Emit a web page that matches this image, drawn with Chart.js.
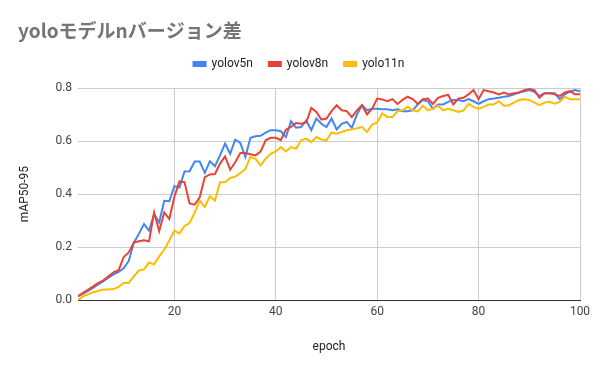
<!DOCTYPE html>
<html lang="ja">
<head>
<meta charset="utf-8">
<title>yoloモデルnバージョン差</title>
<script src="https://cdn.jsdelivr.net/npm/chart.js@4"></script>
<style>
  html, body { margin: 0; padding: 0; background: #fff; }
</style>
</head>
<body>
<canvas id="mapChart" width="600" height="371"></canvas>
<script>
// x categories: training epochs 1..100
const epochs = Array.from({ length: 100 }, (_, i) => i + 1);
const yTicks = [0, 0.2, 0.4, 0.6, 0.8];
const xTicks = [20, 40, 60, 80, 100];

const seriesNames = ['yolov5n', 'yolov8n', 'yolo11n'];

const yolov5n = [
    0.015, 0.025, 0.035, 0.047, 0.060, 0.072, 0.085, 0.097, 0.107, 0.120,
    0.148, 0.217, 0.250, 0.287, 0.262, 0.325, 0.293, 0.375, 0.373, 0.430,
    0.425, 0.485, 0.486, 0.523, 0.523, 0.480, 0.524, 0.505, 0.546, 0.590,
    0.552, 0.605, 0.593, 0.540, 0.612, 0.618, 0.620, 0.632, 0.641, 0.641,
    0.637, 0.615, 0.675, 0.650, 0.653, 0.678, 0.641, 0.685, 0.665, 0.653,
    0.685, 0.644, 0.665, 0.672, 0.650, 0.700, 0.735, 0.716, 0.722, 0.722,
    0.720, 0.720, 0.716, 0.720, 0.712, 0.712, 0.716, 0.738, 0.755, 0.750,
    0.722, 0.738, 0.738, 0.748, 0.755, 0.755, 0.750, 0.758, 0.750, 0.740,
    0.750, 0.758, 0.760, 0.763, 0.767, 0.770, 0.776, 0.783, 0.788, 0.792,
    0.786, 0.770, 0.780, 0.780, 0.780, 0.758, 0.776, 0.786, 0.792, 0.788
];

const yolov8n = [
    0.015, 0.028, 0.040, 0.052, 0.065, 0.075, 0.090, 0.105, 0.113, 0.163,
    0.180, 0.217, 0.222, 0.226, 0.222, 0.331, 0.260, 0.331, 0.306, 0.390,
    0.448, 0.445, 0.365, 0.360, 0.388, 0.464, 0.474, 0.476, 0.515, 0.542,
    0.492, 0.520, 0.555, 0.555, 0.550, 0.546, 0.560, 0.603, 0.612, 0.612,
    0.603, 0.643, 0.653, 0.668, 0.665, 0.670, 0.725, 0.710, 0.681, 0.685,
    0.713, 0.735, 0.716, 0.713, 0.690, 0.716, 0.735, 0.700, 0.722, 0.760,
    0.757, 0.750, 0.758, 0.740, 0.755, 0.767, 0.758, 0.740, 0.758, 0.760,
    0.740, 0.763, 0.770, 0.774, 0.738, 0.760, 0.763, 0.776, 0.792, 0.758,
    0.792, 0.788, 0.783, 0.776, 0.783, 0.776, 0.780, 0.783, 0.792, 0.796,
    0.792, 0.763, 0.780, 0.780, 0.776, 0.770, 0.783, 0.788, 0.776, 0.776
];

const yolo11n = [
    0.000, 0.015, 0.022, 0.030, 0.035, 0.040, 0.040, 0.042, 0.050, 0.066,
    0.065, 0.090, 0.112, 0.116, 0.142, 0.135, 0.165, 0.190, 0.225, 0.262,
    0.252, 0.280, 0.291, 0.330, 0.375, 0.352, 0.392, 0.375, 0.445, 0.445,
    0.461, 0.466, 0.479, 0.495, 0.540, 0.533, 0.508, 0.533, 0.552, 0.561,
    0.577, 0.561, 0.577, 0.571, 0.603, 0.609, 0.596, 0.615, 0.606, 0.603,
    0.632, 0.628, 0.634, 0.641, 0.644, 0.648, 0.653, 0.634, 0.662, 0.670,
    0.704, 0.691, 0.691, 0.712, 0.716, 0.729, 0.716, 0.712, 0.733, 0.716,
    0.722, 0.733, 0.716, 0.722, 0.716, 0.710, 0.715, 0.740, 0.729, 0.722,
    0.729, 0.738, 0.738, 0.750, 0.733, 0.735, 0.745, 0.755, 0.758, 0.755,
    0.745, 0.735, 0.745, 0.748, 0.741, 0.748, 0.767, 0.758, 0.758, 0.758
];

const seriesColors = ['#4285F4', '#EA4335', '#FBBC04'];

function toPoints(values) {
    return values.map((v, i) => ({ x: epochs[i], y: v }));
}

// Push the plot area a little further below the legend
const legendSpacing = {
    id: 'legendSpacing',
    beforeInit(chart) {
        const originalFit = chart.legend.fit;
        chart.legend.fit = function fit() {
            originalFit.bind(chart.legend)();
            this.height += 8;
        };
    }
};

const baseFont = { family: 'Roboto, "Liberation Sans", Arial, sans-serif', size: 12 };

new Chart(document.getElementById('mapChart'), {
    type: 'line',
    data: {
        datasets: [yolov5n, yolov8n, yolo11n].map((values, i) => ({
            label: seriesNames[i],
            data: toPoints(values),
            borderColor: seriesColors[i],
            backgroundColor: seriesColors[i],
            borderWidth: 2,
            pointRadius: 0,
            pointHoverRadius: 0,
            tension: 0,
            fill: false,
            // later series drawn on top, like the sheet
            order: 2 - i
        }))
    },
    plugins: [legendSpacing],
    options: {
        responsive: false,
        animation: false,
        layout: {
            padding: { left: 18, right: 20, top: 0, bottom: 17 }
        },
        plugins: {
            title: {
                display: true,
                text: 'yoloモデルnバージョン差',
                align: 'start',
                color: '#757575',
                font: { family: '"Noto Sans CJK JP", "Noto Sans", sans-serif', size: 19, weight: 'bold', lineHeight: 1.0 },
                padding: { top: 21, bottom: 2 }
            },
            legend: {
                display: true,
                position: 'top',
                align: 'center',
                labels: {
                    boxWidth: 12,
                    boxHeight: 4,
                    padding: 16,
                    color: '#222222',
                    font: baseFont,
                    sort: (a, b) => a.datasetIndex - b.datasetIndex
                }
            },
            tooltip: { enabled: false }
        },
        scales: {
            x: {
                type: 'linear',
                min: 1,
                max: 100,
                afterBuildTicks: axis => {
                    axis.ticks = xTicks.map(v => ({ value: v }));
                },
                grid: {
                    color: '#cccccc',
                    drawTicks: false
                },
                border: { display: true, color: '#333333', width: 1 },
                ticks: {
                    color: '#444444',
                    font: baseFont,
                    padding: 5,
                    maxRotation: 0
                },
                title: {
                    display: true,
                    text: 'epoch',
                    color: '#222222',
                    font: baseFont,
                    padding: { top: 15, bottom: 0 }
                }
            },
            y: {
                min: 0,
                max: 0.8,
                afterBuildTicks: axis => {
                    axis.ticks = yTicks.map(v => ({ value: v }));
                },
                grid: {
                    color: '#cccccc',
                    drawTicks: false
                },
                border: { display: false },
                ticks: {
                    color: '#444444',
                    font: baseFont,
                    padding: 6,
                    callback: v => Number(v).toFixed(1)
                },
                title: {
                    display: true,
                    text: 'mAP50-95',
                    color: '#222222',
                    font: baseFont,
                    padding: { top: 0, bottom: 17 }
                }
            }
        }
    }
});
</script>
</body>
</html>
